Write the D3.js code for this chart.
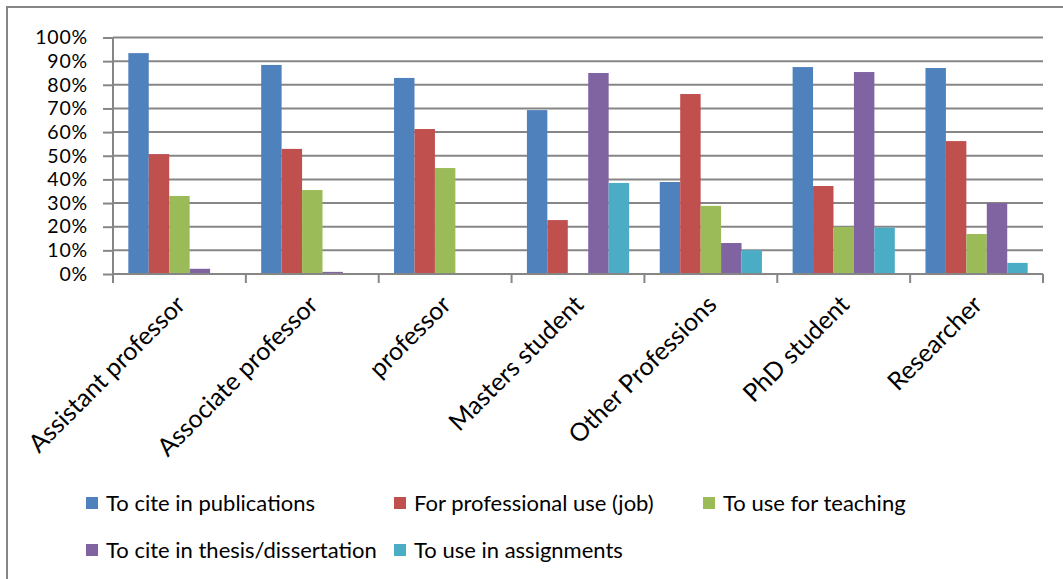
<!DOCTYPE html>
<html>
<head>
<meta charset="utf-8">
<script src="https://cdn.jsdelivr.net/npm/d3@7"></script>
<style>
  html, body { margin: 0; padding: 0; background: #fff; }
  svg { display: block; font-family: Lato, "Open Sans", sans-serif; }
</style>
</head>
<body>
<svg id="chart" width="1063" height="579"></svg>
<script>
// Reasons for use, share of respondents in each group
const categories = ["Assistant professor", "Associate professor", "professor", "Masters student", "Other Professions", "PhD student", "Researcher"];
const seriesNames = ["To cite in publications", "For professional use (job)", "To use for teaching", "To cite in thesis/dissertation", "To use in assignments"];
const citePublications = [0.934, 0.884, 0.829, 0.693, 0.389, 0.875, 0.871];
const professionalUse  = [0.507, 0.529, 0.613, 0.228, 0.761, 0.372, 0.562];
const teaching         = [0.330, 0.355, 0.448, 0.000, 0.288, 0.199, 0.169];
const citeThesis       = [0.022, 0.009, 0.000, 0.850, 0.131, 0.854, 0.300];
const assignments      = [0.000, 0.000, 0.000, 0.385, 0.101, 0.196, 0.047];
const yTicks = [0, 0.1, 0.2, 0.3, 0.4, 0.5, 0.6, 0.7, 0.8, 0.9, 1.0];
const colors = ["#4F81BD", "#C0504D", "#9BBB59", "#8064A2", "#4BACC6"];

const seriesValues = [citePublications, professionalUse, teaching, citeThesis, assignments];
const rows = categories.map((c, i) => ({
  category: c,
  values: seriesNames.map((s, k) => ({ series: s, value: seriesValues[k][i], color: colors[k] }))
}));

const svg = d3.select("#chart");
const gridColor = "#868686";

// outer frame
svg.append("rect")
  .attr("x", 7).attr("y", 7).attr("width", 1120).attr("height", 620)
  .attr("fill", "none").attr("stroke", gridColor).attr("stroke-width", 2);

const plot = { left: 113, right: 1043, top: 37.5, bottom: 274 };

const x = d3.scaleBand().domain(categories).range([plot.left, plot.right]).paddingInner(0).paddingOuter(0);
const xs = d3.scaleBand().domain(seriesNames).range([0, x.bandwidth()]).paddingInner(0).paddingOuter(0.75);
const y = d3.scaleLinear().domain([0, 1]).range([plot.bottom, plot.top]);

// horizontal gridlines
svg.append("g").selectAll("line").data(yTicks.slice(1)).join("line")
  .attr("x1", plot.left).attr("x2", plot.right)
  .attr("y1", d => y(d)).attr("y2", d => y(d))
  .attr("stroke", gridColor).attr("stroke-width", 2);

// bars
const groups = svg.append("g").selectAll("g").data(rows).join("g")
  .attr("transform", d => `translate(${x(d.category)},0)`);
groups.selectAll("rect").data(d => d.values).join("rect")
  .attr("x", d => xs(d.series))
  .attr("width", xs.bandwidth())
  .attr("y", d => y(d.value))
  .attr("height", d => y(0) - y(d.value))
  .attr("fill", d => d.color);

// y axis
const yAxis = svg.append("g")
  .attr("transform", `translate(${plot.left},0)`)
  .call(d3.axisLeft(y).tickValues(yTicks).tickFormat(d3.format(".0%")).tickSize(10).tickPadding(15));
yAxis.select(".domain").attr("stroke", gridColor).attr("stroke-width", 2)
  .attr("d", `M0,${plot.top}V${plot.bottom}`);
yAxis.selectAll(".tick line").attr("stroke", gridColor).attr("stroke-width", 2);
yAxis.selectAll(".tick text").attr("fill", "#000")
  .style("font-size", "19.5px").style("letter-spacing", "0.8px")
  .style("font-family", "Lato, sans-serif");

// x axis with category boundary ticks
const bounds = categories.map(c => x(c)).concat([plot.right]);
svg.append("line")
  .attr("x1", plot.left).attr("x2", plot.right)
  .attr("y1", plot.bottom).attr("y2", plot.bottom)
  .attr("stroke", gridColor).attr("stroke-width", 2);
svg.append("g").selectAll("line").data(bounds).join("line")
  .attr("x1", d => d).attr("x2", d => d)
  .attr("y1", plot.bottom).attr("y2", plot.bottom + 9)
  .attr("stroke", gridColor).attr("stroke-width", 2);

// rotated category labels
svg.append("g").selectAll("text").data(categories).join("text")
  .attr("transform", d => `translate(${x(d) + x.bandwidth() / 2 + 1},${plot.bottom + 26}) rotate(-45)`)
  .attr("text-anchor", "end")
  .attr("dy", "0.35em")
  .style("font-size", "25px")
  .attr("fill", "#000")
  .text(d => d);

// legend
const legendCols = [86, 394, 703];
const legendRows = [503, 550];
const legend = svg.append("g").selectAll("g").data(seriesNames).join("g")
  .attr("transform", (d, i) => `translate(${legendCols[i % 3]},${legendRows[Math.floor(i / 3)]})`);
legend.append("rect")
  .attr("x", 0).attr("y", -6).attr("width", 12).attr("height", 12)
  .attr("fill", (d, i) => colors[i]);
legend.append("text")
  .attr("x", 20).attr("dy", "0.35em")
  .style("font-size", "22px")
  .attr("fill", "#000")
  .text(d => d);
</script>
</body>
</html>
